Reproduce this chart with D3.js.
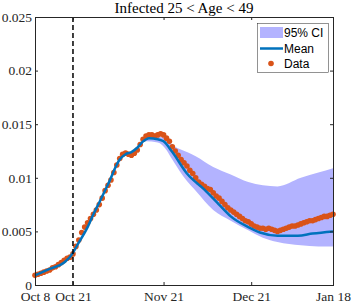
<!DOCTYPE html>
<html>
<head>
<meta charset="utf-8">
<script src="https://d3js.org/d3.v7.min.js"></script>
<style>
  body { margin: 0; background: #fff; }
</style>
</head>
<body>
<script>
// day offsets are counted from the first date
var startDate = "2020-10-08";
var interventionDate = "2020-10-21";
var tickDates = ["2020-10-08", "2020-10-21", "2020-11-21", "2020-12-21", "2021-01-18"];
var tickLabels = ["Oct 8", "Oct 21", "Nov 21", "Dec 21", "Jan 18"];
var yTicks = [0, 0.005, 0.01, 0.015, 0.02, 0.025];
var yTickLabels = ["0", "0.005", "0.01", "0.015", "0.02", "0.025"];

// observed data, one per day
var dataVals = [
  0.0009, 0.0010, 0.0011, 0.0012, 0.0013, 0.0014, 0.0016, 0.0017, 0.0019, 0.0021,
  0.0023, 0.0025, 0.0026, 0.0029, 0.0036, 0.0042, 0.0049, 0.0054, 0.0058, 0.0062,
  0.0066, 0.0070, 0.0075, 0.0081, 0.0088, 0.0093, 0.0098, 0.0105, 0.0112, 0.0118,
  0.0122, 0.0123, 0.0122, 0.0121, 0.0123, 0.0126, 0.0131, 0.0136, 0.0139, 0.0140,
  0.0140, 0.0139, 0.0140, 0.0141, 0.0140, 0.0137, 0.0134, 0.0129, 0.0125, 0.0121,
  0.0117, 0.0114, 0.0111, 0.0107, 0.0104, 0.0100, 0.0096, 0.0094, 0.0092, 0.0090,
  0.0089, 0.0086, 0.0083, 0.0081, 0.0078, 0.0075, 0.0072, 0.0070, 0.0068, 0.0066,
  0.0064, 0.0062, 0.0060, 0.0059, 0.0057, 0.0055, 0.0054, 0.0053, 0.0053, 0.0052,
  0.0053, 0.0052, 0.0051, 0.0050, 0.0051, 0.0052, 0.0053, 0.0054, 0.0055, 0.0055,
  0.0056, 0.0057, 0.0058, 0.0059, 0.0060, 0.0060, 0.0061, 0.0062, 0.0063, 0.0064,
  0.0064, 0.0065, 0.0066
];

// model mean (day, value)
var meanDays = [0, 5, 10, 13, 14, 18, 20, 22, 25, 29, 31, 33, 35, 37, 39, 42, 44, 47, 52, 58, 63, 67, 73, 77, 83, 90, 95, 102];
var meanVals = [0.0009, 0.0015, 0.0021, 0.0030, 0.0035, 0.0054, 0.0066, 0.0077, 0.0094, 0.0117, 0.0122, 0.0124, 0.0128, 0.0134, 0.0137, 0.0136, 0.0134, 0.0124, 0.0104, 0.0089, 0.0075, 0.0064, 0.0054, 0.0049, 0.0046, 0.0046, 0.0048, 0.0050];

// 95% CI (day, lower, upper)
var ciDays  = [36, 38, 42, 45, 47, 52, 55, 61, 67, 73, 78, 83, 91, 97, 102];
var ciLower = [0.0131, 0.0134, 0.0133, 0.0126, 0.0117, 0.0097, 0.0088, 0.0070, 0.0060, 0.0051, 0.0044, 0.0040, 0.0037, 0.0036, 0.0036];
var ciUpper = [0.0131, 0.0137, 0.0138, 0.0137, 0.0131, 0.0124, 0.0120, 0.0110, 0.0103, 0.0096, 0.0093, 0.0092, 0.0100, 0.0105, 0.0109];

var width = 354, height = 303;
var margin = {left: 35, right: 21, top: 17, bottom: 18};
var parse = d3.timeParse("%Y-%m-%d");
var t0 = parse(startDate);
function dayToDate(d) { return d3.timeDay.offset(t0, d); }

var x = d3.scaleTime()
  .domain([t0, parse(tickDates[tickDates.length - 1])])
  .range([margin.left, width - margin.right]);
var y = d3.scaleLinear()
  .domain([0, 0.025])
  .range([height - margin.bottom, margin.top]);

var svg = d3.select("body").append("svg")
  .attr("width", width)
  .attr("height", height);

var serif = "'Liberation Serif', 'DejaVu Serif', serif";
var axisColor = "#262626";

// CI band
var ci = ciDays.map(function(d, i) { return {date: dayToDate(d), lo: ciLower[i], hi: ciUpper[i]}; });
svg.append("path")
  .datum(ci)
  .attr("d", d3.area()
    .x(function(d) { return x(d.date); })
    .y0(function(d) { return y(d.lo); })
    .y1(function(d) { return y(d.hi); })
    .curve(d3.curveMonotoneX))
  .style("fill", "#b3b3ff")
  .style("stroke", "none");

// data points
svg.selectAll(".pt")
  .data(dataVals)
  .enter().append("circle")
  .attr("class", "pt")
  .attr("cx", function(d, i) { return x(dayToDate(i)); })
  .attr("cy", function(d) { return y(d); })
  .attr("r", 2.8)
  .style("fill", "#D95319");

// mean line
var mean = meanDays.map(function(d, i) { return {date: dayToDate(d), v: meanVals[i]}; });
svg.append("path")
  .datum(mean)
  .attr("d", d3.line()
    .x(function(d) { return x(d.date); })
    .y(function(d) { return y(d.v); })
    .curve(d3.curveMonotoneX))
  .style("fill", "none")
  .style("stroke", "#0072BD")
  .style("stroke-width", 2.5);

// dashed intervention line
svg.append("line")
  .attr("x1", x(parse(interventionDate))).attr("x2", x(parse(interventionDate)))
  .attr("y1", y(0.025)).attr("y2", y(0))
  .style("stroke", "#000")
  .style("stroke-width", 1.5)
  .style("stroke-dasharray", "5,3");

// axes (MATLAB style box, ticks inside)
var xDates = tickDates.map(parse);
var gBottom = svg.append("g")
  .attr("transform", "translate(0," + y(0) + ")")
  .call(d3.axisBottom(x).tickValues(xDates).tickSize(-3).tickPadding(5)
    .tickFormat(function(d, i) { return tickLabels[i]; }));
var gTop = svg.append("g")
  .attr("transform", "translate(0," + y(0.025) + ")")
  .call(d3.axisTop(x).tickValues(xDates).tickSize(-3).tickFormat(""));
var gLeft = svg.append("g")
  .attr("transform", "translate(" + x.range()[0] + ",0)")
  .call(d3.axisLeft(y).tickValues(yTicks).tickSize(-3).tickPadding(3)
    .tickFormat(function(d, i) { return yTickLabels[i]; }));
var gRight = svg.append("g")
  .attr("transform", "translate(" + x.range()[1] + ",0)")
  .call(d3.axisRight(y).tickValues(yTicks).tickSize(-3).tickFormat(""));

[gBottom, gTop, gLeft, gRight].forEach(function(g) {
  g.selectAll("path.domain").style("stroke", axisColor).attr("shape-rendering", "crispEdges");
  g.selectAll(".tick line").style("stroke", axisColor);
  g.selectAll("text").style("font-family", serif).style("font-size", "13.5px").style("fill", axisColor);
});
gBottom.selectAll("text").attr("y", 11).attr("dy", "0.35em");

// title
svg.append("text")
  .attr("x", (x.range()[0] + x.range()[1]) / 2)
  .attr("y", 13)
  .attr("text-anchor", "middle")
  .style("font-family", serif)
  .style("font-size", "15px")
  .style("fill", "#000")
  .text("Infected 25 < Age < 49");

// legend
var lg = svg.append("g");
var sans = "'Liberation Sans', Arial, sans-serif";
lg.append("rect")
  .attr("x", 257.5).attr("y", 23.5).attr("width", 71).attr("height", 49)
  .style("fill", "#fff").style("stroke", "#262626").style("stroke-width", 0.5);
lg.append("rect")
  .attr("x", 260).attr("y", 27).attr("width", 23).attr("height", 11)
  .style("fill", "#b3b3ff");
lg.append("line")
  .attr("x1", 260).attr("x2", 283).attr("y1", 48.5).attr("y2", 48.5)
  .style("stroke", "#0072BD").style("stroke-width", 2.5);
lg.append("circle")
  .attr("cx", 271).attr("cy", 63.5).attr("r", 2.8)
  .style("fill", "#D95319");
var legendLabels = ["95% CI", "Mean", "Data"];
lg.selectAll(".lt")
  .data(legendLabels)
  .enter().append("text")
  .attr("class", "lt")
  .attr("x", 284)
  .attr("y", function(d, i) { return 37 + i * 15.5; })
  .style("font-family", sans)
  .style("font-size", "12px")
  .style("fill", "#000")
  .text(function(d) { return d; });
</script>
</body>
</html>
